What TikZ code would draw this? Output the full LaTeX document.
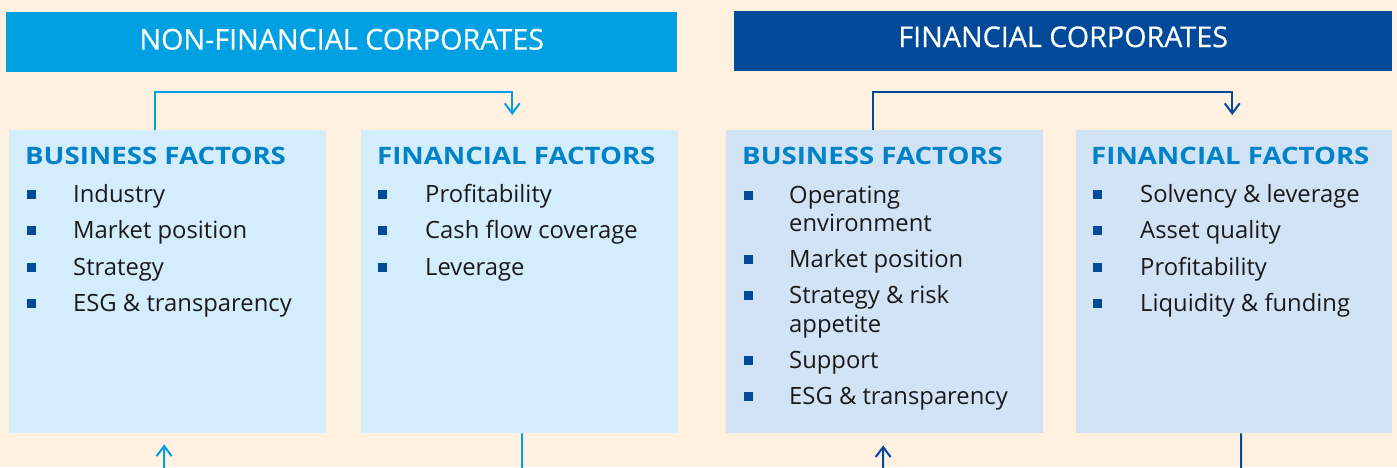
\documentclass[tikz,border=0pt]{standalone}
\usepackage{fontspec}
\setmainfont{Open Sans}
\newfontfamily\ttlfont{Open Sans}[FakeStretch=1.15]
\newfontfamily\hdrfont{Open Sans}[FakeBold=0.5]
\usetikzlibrary{arrows.meta,positioning}
\definecolor{cream}{RGB}{255,240,224}
\definecolor{skyblue}{RGB}{0,160,227}
\definecolor{navyblue}{RGB}{0,74,153}
\definecolor{paleblue}{RGB}{212,237,252}
\definecolor{paleblue2}{RGB}{209,227,245}
\definecolor{midblue}{RGB}{0,130,200}
\definecolor{inkgray}{RGB}{26,26,26}

\begin{document}
\begin{tikzpicture}[x=1pt, y=-1pt,
    hdr/.style={anchor=north west, inner sep=0pt, text=white, minimum height=60pt, font=\hdrfont\fontsize{28.7}{30}\selectfont},
    panel/.style={anchor=north west, minimum width=317pt, minimum height=303pt, inner sep=0pt},
    ttl/.style={anchor=base west, inner sep=0pt, text=midblue, font=\ttlfont\fontsize{24}{28}\selectfont\bfseries},
    itm/.style={anchor=base west, inner sep=0pt, align=left, text=inkgray, font=\fontsize{23.8}{28.5}\selectfont},
    blt/.style={fill=navyblue, minimum size=9pt, inner sep=0pt},
    link/.style={line width=2pt, -{Straight Barb[length=10pt,width=15pt]}}]
    \clip (0,0) rectangle (1397,467);
    \fill[cream] (0,0) rectangle (1397,467);
    % headers
    \node[hdr, fill=skyblue, minimum width=671pt, text depth=6pt] (nfc) at (6,12) {NON-FINANCIAL CORPORATES};
    \node[hdr, fill=navyblue, minimum width=658pt, text depth=9pt] (fc) at (734,11) {FINANCIAL CORPORATES};
    % panels
    \node[panel, fill=paleblue]  (nbf) at (9,130)   {};
    \node[panel, fill=paleblue]  (nff) at (361,130) {};
    \node[panel, fill=paleblue2] (fbf) at (726,130) {};
    \node[panel, fill=paleblue2, minimum width=316pt] (fff) at (1076,130) {};
    \node[ttl] (nbft) at (25,164)   {BUSINESS FACTORS};
    \node[ttl] (nfft) at (377,164)  {FINANCIAL FACTORS};
    \node[ttl] (fbft) at (742,164)  {BUSINESS FACTORS};
    \node[ttl] (ffft) at (1091,164) {FINANCIAL FACTORS};
    % bullet lists (bullet y / last baseline / text)
    \foreach \b/\y/\t [count=\i] in {194/202/Industry, 230.5/238.5/Market position, 267/275/Strategy, 303.5/311.5/ESG \& transparency}{
      \node[blt] (nbfb\i) at (31,\b) {};
      \node[itm] (nbfi\i) at (73,\y) {\t};
    }
    \foreach \b/\y/\t [count=\i] in {194/202/Profitability, 230.5/238.5/Cash flow coverage, 267/275/Leverage}{
      \node[blt] (nffb\i) at (382,\b) {};
      \node[itm] (nffi\i) at (425,\y) {\t};
    }
    \foreach \b/\y/\t [count=\i] in {195/231.5/Operating\\environment, 259/267/Market position, 295.5/332/Strategy \& risk\\appetite, 360/368/Support, 396.5/404.5/ESG \& transparency}{
      \node[blt] (fbfb\i) at (748,\b) {};
      \node[itm] (fbfi\i) at (789,\y) {\t};
    }
    \foreach \b/\y/\t [count=\i] in {194/202/Solvency \& leverage, 230.5/238.5/Asset quality, 267/275/Profitability, 303.5/311.5/Liquidity \& funding}{
      \node[blt] (fffb\i) at (1097,\b) {};
      \node[itm] (fffi\i) at (1140,\y) {\t};
    }
    % connectors
    \coordinate (nbfin)  at (164,480);
    \coordinate (nffout) at (522,480);
    \coordinate (fbfin)  at (883,480);
    \coordinate (fffout) at (1241,480);
    \draw[link, skyblue] ([xshift=-12.5pt]nbf.north) |- ([xshift=-7.5pt,yshift=38pt]nff.north) -- ([xshift=-7.5pt,yshift=15pt]nff.north);
    \draw[link, navyblue] ([xshift=-11.5pt]fbf.north) |- ([xshift=-2pt,yshift=38pt]fff.north) -- ([xshift=-2pt,yshift=15pt]fff.north);
    \draw[link, skyblue] (nbfin) -- ([xshift=-3.5pt,yshift=-11pt]nbf.south);
    \draw[line width=2pt, skyblue] ([xshift=2.5pt]nff.south) -- (nffout);
    \draw[link, navyblue] (fbfin) -- ([xshift=-1.5pt,yshift=-12pt]fbf.south);
    \draw[line width=2pt, navyblue] ([xshift=7pt]fff.south) -- (fffout);
  \end{tikzpicture}
\end{document}
